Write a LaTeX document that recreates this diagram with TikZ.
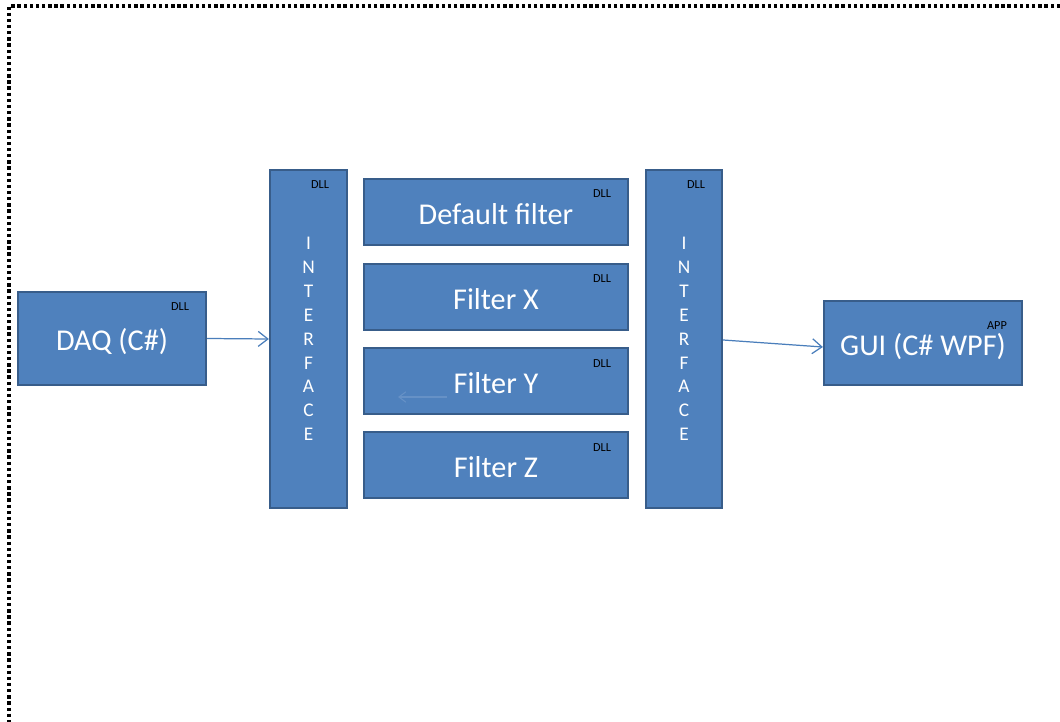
\documentclass[tikz,border=0pt]{standalone}
\usepackage{fontspec}
\setmainfont{Carlito}
\usetikzlibrary{arrows.meta,calc}
\definecolor{boxfill}{HTML}{4F81BD}
\definecolor{boxline}{HTML}{385D8A}
\definecolor{connc}{HTML}{4A7EBB}
\tikzset{
  box/.style={draw=boxline, fill=boxfill, line width=1.3pt, text=white, inner sep=0pt, align=center},
  maintext/.style={font=\fontsize{17.2}{19}\selectfont, text height=16pt, text depth=2pt},
  ifacetext/.style={font=\fontsize{11}{13.6}\selectfont},
  tag/.style={text=black, inner sep=0pt, font=\fontsize{7}{8}\selectfont},
  conn/.style={draw=connc, line width=0.7pt, -{Straight Barb[length=5.5pt,width=8.5pt,line width=0.7pt]}},
  faint/.style={draw=boxfill!87!white, line width=0.6pt, -{Straight Barb[length=4pt,width=6pt]}},
  frame/.style={line width=2pt, dash pattern=on 1.9pt off 1.6pt, black}
}
\begin{document}
\begin{tikzpicture}[x=0.02cm,y=-0.02cm]
\useasboundingbox (0,0) rectangle (1060,722);
\draw[frame] (1060,6) -- (9,6) -- (9,722);

\node[box, maintext, minimum width=3.76cm, minimum height=1.86cm] (daq) at (112,338.5) {DAQ (C\#)};
\node[box, ifacetext, minimum width=1.54cm, minimum height=6.76cm] (ifl) at (308.5,339) {I\\N\\T\\E\\R\\F\\A\\C\\E};
\node[box, maintext, minimum width=5.28cm, minimum height=1.32cm] (fd) at (496,212) {Default filter};
\node[box, maintext, minimum width=5.28cm, minimum height=1.32cm] (fx) at (496,297) {Filter X};
\node[box, maintext, minimum width=5.28cm, minimum height=1.32cm] (fy) at (496,381) {Filter Y};
\node[box, maintext, minimum width=5.28cm, minimum height=1.32cm] (fz) at (496,465) {Filter Z};
\node[box, ifacetext, minimum width=1.52cm, minimum height=6.76cm] (ifr) at (684,339) {I\\N\\T\\E\\R\\F\\A\\C\\E};
\node[box, maintext, minimum width=3.96cm, minimum height=1.68cm] (gui) at (923,343) {GUI (C\# WPF)};

\node[tag] (tdaq) at (180,307) {DLL};
\node[tag] (tifl) at (320,185) {DLL};
\node[tag] (tfd) at (602,194) {DLL};
\node[tag] (tfx) at (602,279) {DLL};
\node[tag] (tfy) at (602,364) {DLL};
\node[tag] (tfz) at (602,448) {DLL};
\node[tag] (tifr) at (696,185) {DLL};
\node[tag] (tgui) at (997,326) {APP};

\draw[conn] (daq.east) -- (ifl.west);
\draw[conn] ($(ifr.east)+(0,1)$) -- ($(gui.west)+(0,4)$);

\coordinate (fa) at (447,397);
\coordinate (fb) at (398,397);
\draw[faint] (fa) -- (fb);
\end{tikzpicture}
\end{document}
